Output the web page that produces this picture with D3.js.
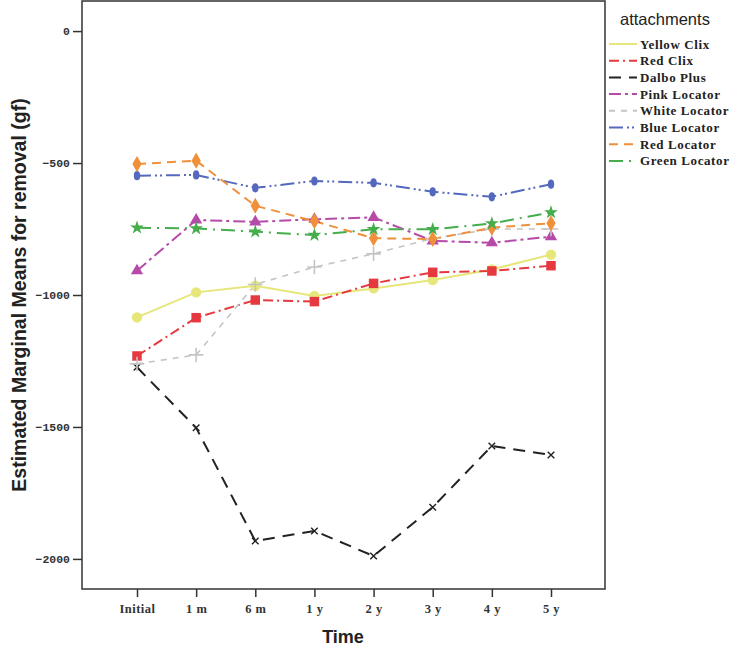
<!DOCTYPE html>
<html><head><meta charset="utf-8">
<script src="https://cdn.jsdelivr.net/npm/d3@7"></script>
<style>body{margin:0;background:#fff;} svg{display:block;}</style>
</head><body>
<svg id="chart" width="732" height="648"></svg>
<script>
const categories = ["Initial","1 m","6 m","1 y","2 y","3 y","4 y","5 y"];
const seriesNames = ["Yellow Clix","Red Clix","Dalbo Plus","Pink Locator","White Locator","Blue Locator","Red Locator","Green Locator"];
const yellowClix   = [-1085, -990, -965, -1004, -975, -943, -903, -847];
const redClix      = [-1231, -1086, -1019, -1025, -956, -914, -909, -889];
const dalboPlus    = [-1274, -1503, -1932, -1894, -1989, -1804, -1572, -1606];
const pinkLocator  = [-908, -716, -723, -713, -706, -795, -802, -779];
const whiteLocator = [-1261, -1227, -960, -894, -844, -786, -750, -750];
const blueLocator  = [-548, -545, -594, -568, -575, -609, -628, -580];
const redLocator   = [-504, -491, -662, -720, -785, -788, -745, -728];
const greenLocator = [-745, -748, -760, -773, -751, -751, -729, -687];
const yTicks = [0, -500, -1000, -1500, -2000];

const colors = ["#e6e67a","#e5393f","#222222","#b64aa9","#c4c4c4","#5468bd","#f0903a","#45ad4b"];
const dashes = ["none","10,4,2,4","12,8","12,4,3,4","6,6","14,4,2,3,2,4","9,6","14,6,2,6"];
const markers = ["circle","square","x","triangle","plus","ellipse","diamond","star"];
const allValues = [yellowClix, redClix, dalboPlus, pinkLocator, whiteLocator, blueLocator, redLocator, greenLocator];

const svg = d3.select("#chart");
const L = 82, R = 605, T = 1, B = 589;

const x = d3.scalePoint().domain(categories).range([137, 551]);
const y = d3.scaleLinear().domain([-2114, 114]).range([B, T]);

// frame
svg.append("rect").attr("x", L).attr("y", T).attr("width", R - L).attr("height", B - T)
  .attr("fill", "none").attr("stroke", "#333").attr("stroke-width", 1.5);

// y axis
const yAxis = svg.append("g").attr("transform", `translate(${L},0)`)
  .call(d3.axisLeft(y).tickValues(yTicks).tickSize(9).tickPadding(3).tickFormat(d3.format("d")));
yAxis.select(".domain").remove();
yAxis.selectAll("line").attr("stroke", "#333").attr("stroke-width", 1.5);
yAxis.selectAll("text").attr("font-family", "Liberation Mono, monospace").attr("font-weight", "bold")
  .attr("font-size", 11.5).attr("fill", "#333");

// x axis
const xAxis = svg.append("g").attr("transform", `translate(0,${B})`)
  .call(d3.axisBottom(x).tickSize(8).tickPadding(7));
xAxis.select(".domain").remove();
xAxis.selectAll("line").attr("stroke", "#333").attr("stroke-width", 1.5);
xAxis.selectAll("text").attr("font-family", "Liberation Serif, serif").attr("font-weight", "bold")
  .attr("font-size", 12.5).attr("fill", "#333").attr("letter-spacing", 0.5);

// axis titles
svg.append("text").attr("x", 343).attr("y", 643).attr("text-anchor", "middle")
  .attr("font-family", "Liberation Sans, Arial, sans-serif").attr("font-weight", "bold")
  .attr("font-size", 18).attr("fill", "#222").text("Time");
svg.append("text").attr("transform", "translate(26,295) rotate(-90)").attr("text-anchor", "middle")
  .attr("font-family", "Liberation Sans, Arial, sans-serif").attr("font-weight", "bold")
  .attr("font-size", 19.5).attr("fill", "#222").text("Estimated Marginal Means for removal (gf)");

// lines
const line = d3.line().x((d, i) => x(categories[i])).y(d => y(d));
const plot = svg.append("g");
allValues.forEach((vals, s) => {
  plot.append("path").datum(vals).attr("d", line).attr("fill", "none")
    .attr("stroke", colors[s]).attr("stroke-width", s === 4 ? 1.6 : 2)
    .attr("stroke-dasharray", dashes[s]);
});

function drawMarker(g, type, cx, cy, color) {
  const sym = {circle: d3.symbolCircle, square: d3.symbolSquare, triangle: d3.symbolTriangle,
               diamond: d3.symbolDiamond, star: d3.symbolStar};
  if (type === "ellipse") {
    g.append("ellipse").attr("cx", cx).attr("cy", cy).attr("rx", 3.2).attr("ry", 4.6).attr("fill", color);
  } else if (type === "plus") {
    g.append("path").attr("d", d3.symbol(d3.symbolPlus, 70)()).attr("transform", `translate(${cx},${cy})`)
      .attr("fill", "none").attr("stroke", color).attr("stroke-width", 1.6);
  } else if (type === "x") {
    g.append("path").attr("d", d3.symbol(d3.symbolX, 30)()).attr("transform", `translate(${cx},${cy})`)
      .attr("fill", "none").attr("stroke", color).attr("stroke-width", 1.4);
  } else {
    const size = {circle: 85, square: 90, triangle: 65, diamond: 75, star: 60}[type];
    g.append("path").attr("d", d3.symbol(sym[type], size)()).attr("transform", `translate(${cx},${cy})`)
      .attr("fill", color);
  }
}
allValues.forEach((vals, s) => {
  vals.forEach((v, i) => drawMarker(plot, markers[s], x(categories[i]), y(v), colors[s]));
});

// legend
const lg = svg.append("g");
lg.append("text").attr("x", 620).attr("y", 25).attr("font-family", "Liberation Sans, Arial, sans-serif")
  .attr("font-size", 16.5).attr("fill", "#222").text("attachments");
seriesNames.forEach((name, s) => {
  const yy = 44 + s * 16.7;
  lg.append("line").attr("x1", 609).attr("x2", 637).attr("y1", yy).attr("y2", yy)
    .attr("stroke", colors[s]).attr("stroke-width", 2).attr("stroke-dasharray", dashes[s]);
  lg.append("text").attr("x", 640).attr("y", yy + 4.5).attr("font-family", "Liberation Serif, serif")
    .attr("font-weight", "bold").attr("font-size", 13).attr("letter-spacing", 0.6)
    .attr("fill", "#222").text(name);
});
</script>
</body></html>
